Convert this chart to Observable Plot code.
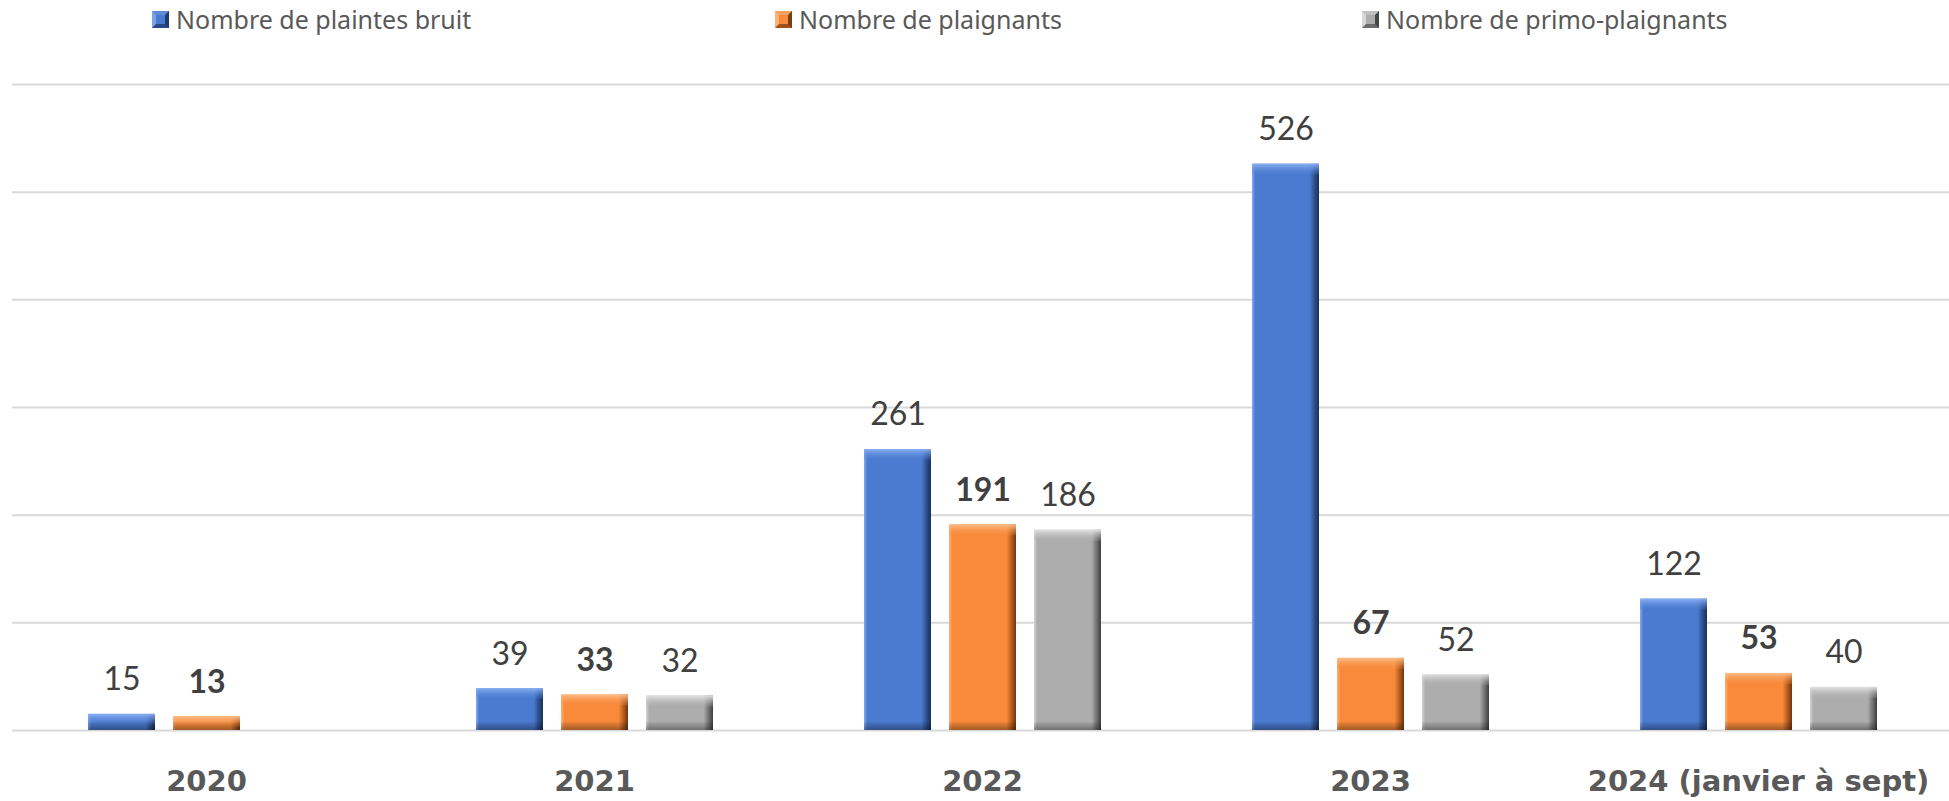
<!DOCTYPE html>
<html>
<head>
<meta charset="utf-8">
<script src="https://cdn.jsdelivr.net/npm/d3@7"></script>
<script src="https://cdn.jsdelivr.net/npm/@observablehq/plot@0.6"></script>
<style>
  html, body { margin: 0; padding: 0; background: #fff; }
  #legend { position: relative; height: 40px; width: 1949px; font-family: "Noto Sans", sans-serif; }
  .item { position: absolute; top: 5px; display: flex; align-items: center; height: 28px; font-size: 25px; color: #595959; white-space: nowrap; }
  .sw { width: 9px; height: 9px; border-style: solid; border-width: 4px; margin-right: 7px; }
  #chart svg { display: block; }
</style>
</head>
<body>
<svg width="0" height="0" style="position:absolute">
  <defs>
    <linearGradient id="h-blue" x1="0" x2="1" y1="0" y2="0">
      <stop offset="0%" stop-color="#86aaf0"/><stop offset="5%" stop-color="#4a7bd0"/>
      <stop offset="86%" stop-color="#4a7bd0"/><stop offset="93%" stop-color="#2e5290"/><stop offset="100%" stop-color="#1a2f57"/>
    </linearGradient>
    <linearGradient id="h-orange" x1="0" x2="1" y1="0" y2="0">
      <stop offset="0%" stop-color="#ffb27a"/><stop offset="5%" stop-color="#f88a3a"/>
      <stop offset="86%" stop-color="#f88a3a"/><stop offset="93%" stop-color="#b95e1f"/><stop offset="100%" stop-color="#6e3510"/>
    </linearGradient>
    <linearGradient id="h-gray" x1="0" x2="1" y1="0" y2="0">
      <stop offset="0%" stop-color="#d4d4d4"/><stop offset="5%" stop-color="#adadad"/>
      <stop offset="86%" stop-color="#adadad"/><stop offset="93%" stop-color="#767676"/><stop offset="100%" stop-color="#3e3e3e"/>
    </linearGradient>
    <linearGradient id="t-blue" x1="0" x2="0" y1="0" y2="1">
      <stop offset="0%" stop-color="#8fb3f5" stop-opacity="0.95"/><stop offset="100%" stop-color="#4a7bd0" stop-opacity="0.2"/>
    </linearGradient>
    <linearGradient id="t-orange" x1="0" x2="0" y1="0" y2="1">
      <stop offset="0%" stop-color="#ffc08e" stop-opacity="0.95"/><stop offset="100%" stop-color="#f88a3a" stop-opacity="0.2"/>
    </linearGradient>
    <linearGradient id="t-gray" x1="0" x2="0" y1="0" y2="1">
      <stop offset="0%" stop-color="#e6e6e6" stop-opacity="0.95"/><stop offset="100%" stop-color="#adadad" stop-opacity="0.2"/>
    </linearGradient>
    <linearGradient id="b-dark" x1="0" x2="0" y1="0" y2="1">
      <stop offset="0%" stop-color="#000" stop-opacity="0.05"/><stop offset="100%" stop-color="#000" stop-opacity="0.35"/>
    </linearGradient>
  </defs>
</svg>
<div id="legend">
  <div class="item" style="left:152px"><span class="sw" style="background:#4a7bd0;border-color:#5e8ad8 #1f3a6b #2a4a85 #7da2e6"></span>Nombre de plaintes bruit</div>
  <div class="item" style="left:775px"><span class="sw" style="background:#f88a3a;border-color:#f9a060 #7a3d12 #a0521c #ffb27a"></span>Nombre de plaignants</div>
  <div class="item" style="left:1362px"><span class="sw" style="background:#adadad;border-color:#c0c0c0 #444 #6a6a6a #d8d8d8"></span>Nombre de primo-plaignants</div>
</div>
<div id="chart"></div>
<script>
const years = ["2020", "2021", "2022", "2023", "2024 (janvier à sept)"];
const seriesNames = ["Nombre de plaintes bruit", "Nombre de plaignants", "Nombre de primo-plaignants"];
const plaintes = [15, 39, 261, 526, 122];
const plaignants = [13, 33, 191, 67, 53];
const primo = [null, 32, 186, 52, 40];
const gridTicks = [100, 200, 300, 400, 500, 600];

const seriesValues = [plaintes, plaignants, primo];
const keys = ["blue", "orange", "gray"];
const data = [];
years.forEach((yr, i) => {
  seriesValues.forEach((vals, s) => {
    if (vals[i] != null) data.push({year: yr, series: seriesNames[s], key: keys[s], value: vals[i]});
  });
});

const barMarks = keys.flatMap(k => {
  const d = data.filter(r => r.key === k);
  return [
    Plot.barY(d, {fx: "year", x: "series", y: "value", fill: `url(#h-${k})`}),
    Plot.barY(d, {fx: "year", x: "series", y1: "value", y2: "value", insetBottom: -11, fill: `url(#t-${k})`}),
    Plot.barY(d, {fx: "year", x: "series", y1: 0, y2: 0, insetTop: -8, fill: "url(#b-dark)"})
  ];
});

const chart = Plot.plot({
  width: 1949,
  height: 761,
  marginTop: 44,
  marginBottom: 71,
  marginLeft: 11,
  marginRight: -4,
  style: {fontFamily: "Lato, sans-serif", background: "#fff"},
  fx: {domain: years, padding: 0, label: null},
  x: {domain: seriesNames, paddingInner: 0.215, paddingOuter: 0.867, axis: null},
  y: {domain: [0, 600], axis: null},
  marks: [
    Plot.ruleY(gridTicks, {stroke: "#d9d9d9", strokeWidth: 2}),
    Plot.ruleY([0], {stroke: "#d9d9d9", strokeWidth: 2}),
    ...barMarks,
    Plot.text(data.filter(r => r.key !== "orange"), {fx: "year", x: "series", y: "value", text: d => String(d.value), lineAnchor: "bottom", dy: -24, fontSize: 32, fill: "#404040"}),
    Plot.text(data.filter(r => r.key === "orange"), {fx: "year", x: "series", y: "value", text: d => String(d.value), lineAnchor: "bottom", dy: -24, fontSize: 32, fontWeight: "bold", fill: "#404040"}),
    Plot.axisFx({anchor: "bottom", tickSize: 0, tickPadding: 40, fontSize: 29, fontWeight: "bold", fontFamily: "DejaVu Sans", fill: "#595959", label: null})
  ]
});
document.getElementById("chart").appendChild(chart);
</script>
</body>
</html>
